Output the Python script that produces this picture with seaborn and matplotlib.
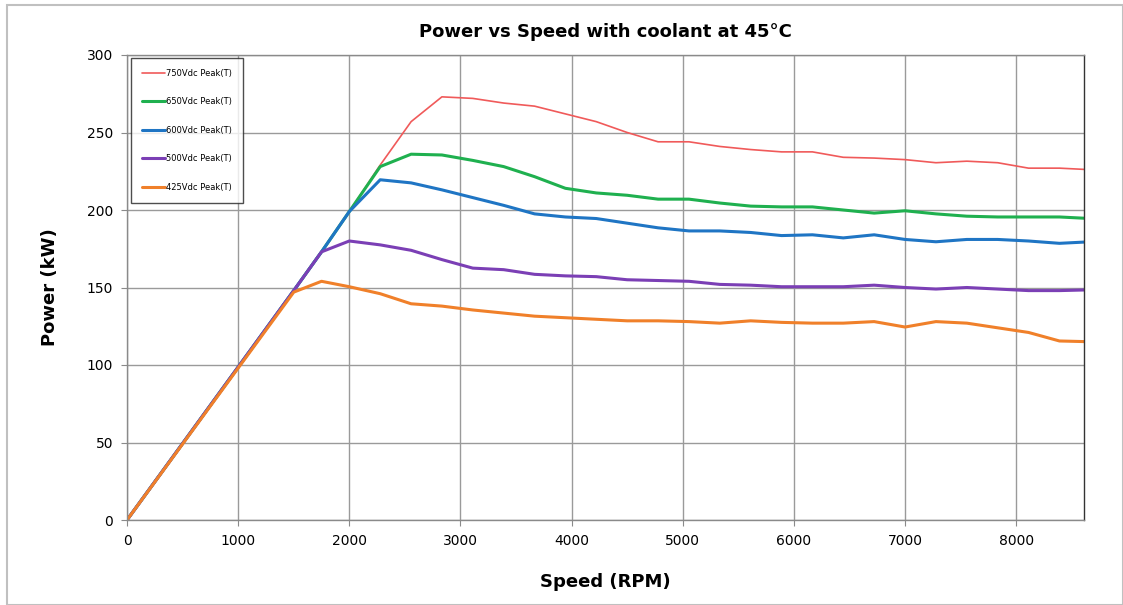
import matplotlib
matplotlib.use("Agg")
import matplotlib.pyplot as plt
import pandas as pd
import seaborn as sns
from matplotlib.patches import Rectangle

# Speed points (RPM) and power curves (kW)
speed = [0, 1500, 1750, 2000, 2278, 2556, 2833, 3111, 3389, 3667, 3944, 4222, 4500, 4778,
         5056, 5333, 5611, 5889, 6167, 6444, 6722, 7000, 7278, 7556, 7833, 8111, 8389, 8667]
p750 = [0, 148, 173, 199, 229, 257, 273, 272, 269, 267, 262, 257, 250, 244,
        244, 241, 239, 237.5, 237.5, 234, 233.5, 232.5, 230.5, 231.5, 230.5, 227, 227, 226]
p650 = [0, 148, 173, 199, 228, 236, 235.5, 232, 228, 221.5, 214, 211, 209.5, 207,
        207, 204.5, 202.5, 202, 202, 200, 198, 199.5, 197.5, 196, 195.5, 195.5, 195.5, 194.5]
p600 = [0, 148, 173, 199, 219.5, 217.5, 213, 208, 203, 197.5, 195.5, 194.5, 191.5, 188.5,
        186.5, 186.5, 185.5, 183.5, 184, 182, 184, 181, 179.5, 181, 181, 180, 178.5, 179.5]
p500 = [0, 148, 173, 180, 177.5, 174, 168, 162.5, 161.5, 158.5, 157.5, 157, 155, 154.5,
        154, 152, 151.5, 150.5, 150.5, 150.5, 151.5, 150, 149, 150, 149, 148, 148, 148.5]
p425 = [0, 147, 154, 150.5, 146, 139.5, 138, 135.5, 133.5, 131.5, 130.5, 129.5, 128.5, 128.5,
        128, 127, 128.5, 127.5, 127, 127, 128, 124.5, 128, 127, 124, 121, 115.5, 115]

labels = ["750Vdc Peak(T)", "650Vdc Peak(T)", "600Vdc Peak(T)", "500Vdc Peak(T)", "425Vdc Peak(T)"]
colors = ["#f05a5a", "#1fb04f", "#1f75c4", "#7b3fb5", "#f0802a"]
widths = [1.2, 2.2, 2.2, 2.2, 2.2]

frames = []
for lab, vals in zip(labels, [p750, p650, p600, p500, p425]):
    frames.append(pd.DataFrame({"Speed": speed, "Power": vals, "Series": lab}))
df = pd.concat(frames, ignore_index=True)

sns.set_theme(style="white")
plt.rcParams["font.family"] = ["DejaVu Sans"]
plt.rcParams["text.color"] = "black"
plt.rcParams["axes.labelcolor"] = "black"

fig = plt.figure(figsize=(11.23, 6.05), dpi=100)
ax = fig.add_axes([127 / 1123, 1 - 520 / 605, (1084 - 127) / 1123, (520 - 55) / 605])

for lab, col, lw in zip(labels, colors, widths):
    sns.lineplot(data=df[df["Series"] == lab], x="Speed", y="Power", color=col,
                 linewidth=lw, label=lab, ax=ax, sort=False)

ax.set_xlim(0, 8610)
ax.set_ylim(0, 300)
ax.set_xticks(range(0, 9000, 1000))
ax.set_yticks(range(0, 301, 50))
ax.grid(True, color="#9a9a9a", linewidth=1.0)
ax.set_axisbelow(True)
for s in ax.spines.values():
    s.set_color("#8a8a8a")
    s.set_linewidth(1.0)
ax.spines["right"].set_color("#333333")
ax.tick_params(axis="both", labelsize=10, labelcolor="black", length=4, width=0.8,
               direction="out", bottom=True, left=True, pad=6, color="#8a8a8a")

ax.set_title("Power vs Speed with coolant at 45°C", fontsize=13, fontweight="bold",
             pad=13, color="black")
ax.set_xlabel("Speed (RPM)", fontsize=13, fontweight="bold", labelpad=18)
ax.set_ylabel("Power (kW)", fontsize=13, fontweight="bold", labelpad=20)

leg = ax.legend(loc="upper left", bbox_to_anchor=(0.004, 0.994), borderaxespad=0,
                fontsize=6, handlelength=2.8, handletextpad=0.1, labelspacing=2.35,
                borderpad=1.3, fancybox=False, frameon=True)
leg.get_frame().set_edgecolor("#222222")
leg.get_frame().set_linewidth(1.0)

# light outer frame around the whole picture
fig.patches.append(Rectangle((7 / 1123, 0), 1 - 7 / 1123, 1 - 5 / 605, transform=fig.transFigure,
                             fill=False, edgecolor="#c0c0c0", linewidth=1.5))

fig.savefig("out.png", dpi=100)
